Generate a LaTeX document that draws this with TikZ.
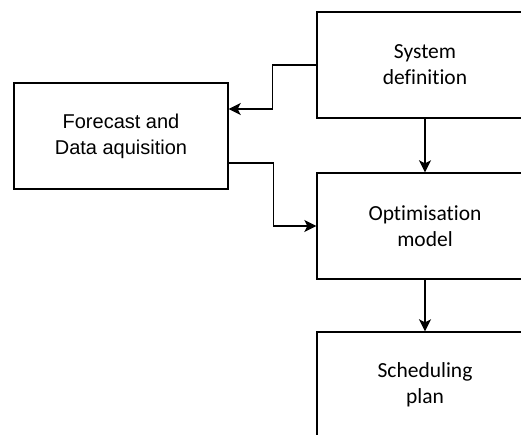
\documentclass[tikz,border=0pt]{standalone}
\usepackage{fontspec}
\newfontfamily\calibrifont[Ligatures={NoCommon}]{Carlito}
\newfontfamily\arialfont{Liberation Sans}
\usetikzlibrary{arrows.meta}
\begin{document}
\begin{tikzpicture}[x=1pt,y=-1pt,
  block/.style={draw=black,line width=1.4pt,fill=white,minimum width=216pt,minimum height=106pt,align=center,inner sep=0pt,
    font=\calibrifont\fontsize{21.5}{26}\selectfont},
  arr/.style={line width=1.4pt,-{Stealth[length=12pt,width=12pt,inset=3pt]}}]
\clip (0,0) rectangle (521,435);
\fill[white] (0,0) rectangle (521,435);

% blocks
\node[block] (sys) at (425,65) {System\\definition};
\node[block,minimum width=214pt,font=\arialfont\fontsize{20}{26}\selectfont] (fc) at (121,136) {Forecast and\\Data aquisition};
\node[block] (opt) at (425,226) {Optimisation\\model};
\node[block] (sch) at (425,385) {Scheduling\\plan};

% ports on the forecast block
\coordinate (fcin) at ([yshift=27pt]fc.east);
\coordinate (fcout) at ([yshift=-27pt]fc.east);

% connectors
\draw[arr] (sys.west) -- ++(-44,0) |- (fcin);
\draw[arr] (fcout) -- ++(45,0) |- (opt.west);
\draw[arr] (sys.south) -- (opt.north);
\draw[arr] (opt.south) -- (sch.north);
\end{tikzpicture}
\end{document}
